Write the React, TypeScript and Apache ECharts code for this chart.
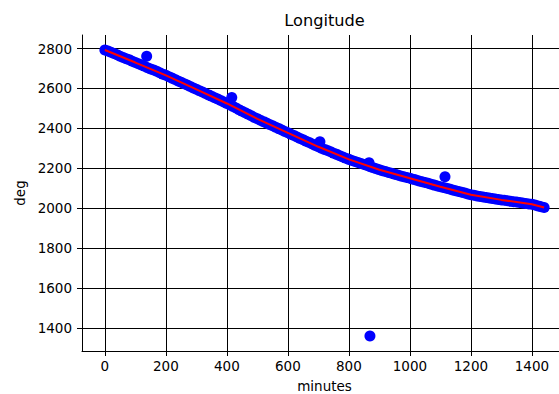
import React, { useEffect, useRef } from "react";
import * as echarts from "echarts";

// Measured longitude (deg), one reading every 10 minutes from 0 to 1440
const sampleStep = 10;
const degrees: number[] = [
  2793, 2788, 2782, 2775, 2769, 2762, 2755, 2749, 2744, 2737,
  2730, 2724, 2718, 2711, 2704, 2698, 2693, 2686, 2679, 2672,
  2666, 2659, 2652, 2645, 2638, 2631, 2624, 2617, 2610, 2603,
  2596, 2589, 2583, 2575, 2568, 2561, 2554, 2547, 2540, 2532,
  2525, 2518, 2510, 2502, 2494, 2486, 2479, 2471, 2463, 2455,
  2448, 2441, 2434, 2427, 2420, 2413, 2406, 2399, 2392, 2385,
  2378, 2371, 2364, 2357, 2350, 2343, 2336, 2329, 2322, 2315,
  2308, 2301, 2295, 2289, 2283, 2276, 2270, 2263, 2257, 2251,
  2245, 2239, 2234, 2229, 2224, 2219, 2214, 2208, 2203, 2198,
  2193, 2188, 2184, 2179, 2175, 2171, 2167, 2162, 2158, 2154,
  2150, 2146, 2142, 2137, 2133, 2129, 2125, 2120, 2116, 2112,
  2108, 2104, 2100, 2096, 2092, 2088, 2084, 2080, 2076, 2072,
  2068, 2065, 2062, 2059, 2057, 2054, 2052, 2049, 2047, 2044,
  2042, 2040, 2038, 2035, 2033, 2031, 2029, 2026, 2024, 2022,
  2020, 2016, 2012, 2008, 2004,
];

// Stray readings off the trend
const outlierMinutes: number[] = [137, 416, 705, 866, 1115, 869];
const outlierDegrees: number[] = [2761, 2555, 2333, 2228, 2158, 1360];

// Smoothed trend (red line)
const trendMinutes: number[] = [
  0, 100, 200, 300, 400, 500, 600, 700, 800, 900, 1000, 1100, 1200, 1300,
  1400, 1440,
];
const trendDegrees: number[] = [
  2793, 2730, 2666, 2596, 2525, 2448, 2378, 2308, 2245, 2193, 2150, 2108,
  2068, 2042, 2020, 2004,
];

const xTicks: number[] = [0, 200, 400, 600, 800, 1000, 1200, 1400];
const yTicks: number[] = [1400, 1600, 1800, 2000, 2200, 2400, 2600, 2800];

const FONT = "DejaVu Sans";

export default function App() {
  const ref = useRef<HTMLDivElement>(null);

  useEffect(() => {
    if (!ref.current) return;
    const chart = echarts.init(ref.current, undefined, { renderer: "svg" });

    const points = degrees
      .map((d, i) => [i * sampleStep, d])
      .concat(outlierMinutes.map((m, i) => [m, outlierDegrees[i]]));
    const trend = trendMinutes.map((m, i) => [m, trendDegrees[i]]);
    const plain = (v: number) => String(v);

    chart.setOption({
      animation: false,
      backgroundColor: "#ffffff",
      title: {
        text: "Longitude",
        left: 324.5,
        top: 12,
        textAlign: "center",
        padding: 0,
        textStyle: {
          fontFamily: FONT,
          fontSize: 16.2,
          fontWeight: "normal",
          color: "#000",
        },
      },
      grid: {
        left: 82,
        top: 35,
        width: 485,
        height: 316,
        containLabel: false,
        outerBoundsMode: "none",
      },
      xAxis: {
        type: "value",
        min: -75,
        max: 1515,
        splitNumber: 8,
        name: "minutes",
        nameLocation: "middle",
        nameGap: 28,
        nameTextStyle: { fontFamily: FONT, fontSize: 13.5, color: "#000" },
        axisLine: { show: true, onZero: false, lineStyle: { color: "#000", width: 1 } },
        axisTick: {
          show: true,
          length: 5,
          inside: false,
          customValues: xTicks,
          lineStyle: { color: "#000", width: 1 },
        },
        axisLabel: {
          show: true,
          margin: 8,
          customValues: xTicks,
          formatter: plain,
          fontFamily: FONT,
          fontSize: 13.5,
          color: "#000",
        },
        splitLine: { show: true, lineStyle: { color: "#000", width: 1 } },
      },
      yAxis: {
        type: "value",
        min: 1285,
        max: 2868,
        splitNumber: 8,
        name: "deg",
        nameLocation: "middle",
        nameGap: 43,
        nameRotate: 90,
        nameTextStyle: { fontFamily: FONT, fontSize: 13.5, color: "#000" },
        axisLine: { show: true, onZero: false, lineStyle: { color: "#000", width: 1 } },
        axisTick: {
          show: true,
          length: 5,
          inside: false,
          customValues: yTicks,
          lineStyle: { color: "#000", width: 1 },
        },
        axisLabel: {
          show: true,
          margin: 10,
          customValues: yTicks,
          formatter: plain,
          fontFamily: FONT,
          fontSize: 13.5,
          color: "#000",
        },
        splitLine: { show: true, lineStyle: { color: "#000", width: 1 } },
      },
      series: [
        {
          type: "scatter",
          data: points,
          symbol: "circle",
          symbolSize: 11,
          itemStyle: { color: "#0000ff", opacity: 1 },
          z: 2,
        },
        {
          type: "line",
          data: trend,
          showSymbol: false,
          symbol: "none",
          lineStyle: { color: "#ff0000", width: 2 },
          z: 3,
        },
      ],
    });

    return () => chart.dispose();
  }, []);

  return (
    <div
      ref={ref}
      style={{ position: "fixed", left: 0, top: 0, width: 559, height: 394 }}
    />
  );
}
